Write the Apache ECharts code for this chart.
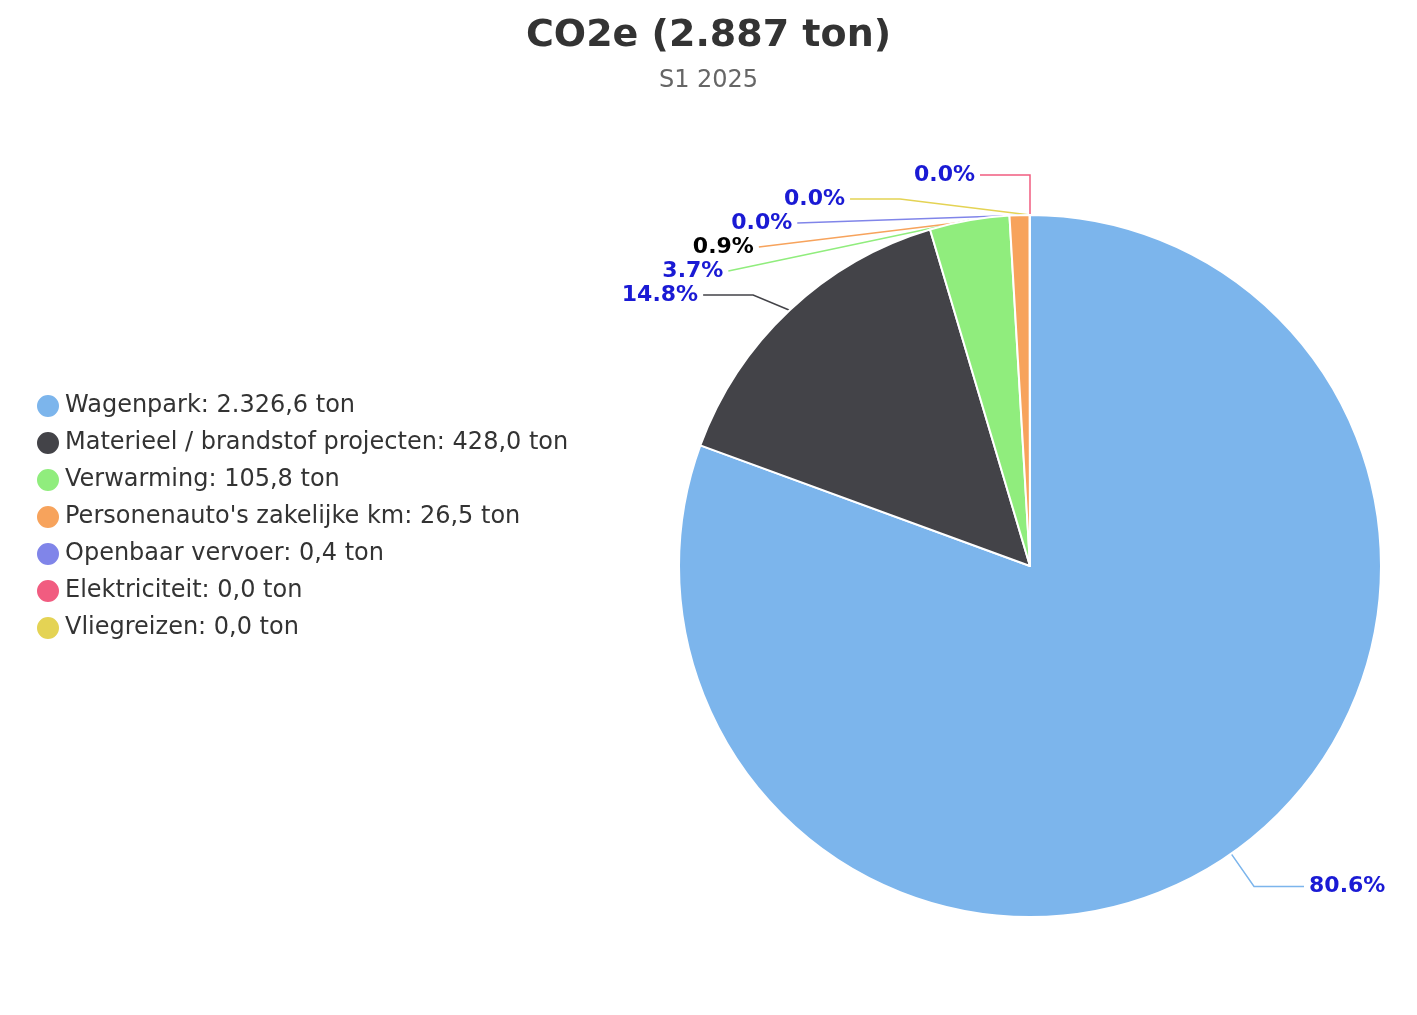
<!DOCTYPE html>
<html><head><meta charset="utf-8">
<script src="https://cdn.jsdelivr.net/npm/echarts@6/dist/echarts.min.js"></script>
<style>html,body{margin:0;padding:0;background:#fff}#c{width:1417px;height:1015px}</style>
</head><body><div id="c"></div>
<script>
const categories = ["Wagenpark","Materieel / brandstof projecten","Verwarming","Personenauto's zakelijke km","Openbaar vervoer","Elektriciteit","Vliegreizen"];
const values = [2326.6, 428.0, 105.8, 26.5, 0.4, 0.0, 0.0];
const valueLabels = ["2.326,6","428,0","105,8","26,5","0,4","0,0","0,0"];
const colors = ["#7cb5ec","#434348","#90ed7d","#f7a35c","#8085e9","#f15c80","#e4d354"];
const total = values.reduce((a,b)=>a+b,0);
const chart = echarts.init(document.getElementById('c'));
chart.setOption({
  animation:false,
  color: colors,
  title:{text:'CO2e (2.887 ton)',subtext:'S1 2025',left:'center',top:12,itemGap:14,
    textStyle:{fontFamily:'DejaVu Sans',fontSize:38,fontWeight:'bold',color:'#333'},
    subtextStyle:{fontFamily:'DejaVu Sans',fontSize:24,color:'#666'}},
  legend:{orient:'vertical',left:30,top:388,itemGap:11,icon:'circle',itemWidth:24,itemHeight:24,
    textStyle:{fontFamily:'DejaVu Sans',fontSize:24,color:'#333'},
    formatter:n=>n+': '+valueLabels[categories.indexOf(n)]+' ton'},
  series:[{type:'pie',center:[1030,566],radius:[0,351],startAngle:90,clockwise:true,
    stillShowZeroSum:true,minShowLabelAngle:0,avoidLabelOverlap:true,
    itemStyle:{borderColor:'#fff',borderWidth:2},
    label:{fontFamily:'DejaVu Sans',fontSize:22,fontWeight:'bold',color:'#1a1ad4',
      formatter:p=>(p.value/total*100).toFixed(1)+'%'},
    labelLine:{length:40,length2:50,lineStyle:{width:1.5}},
    data:categories.map((c,i)=>({name:c,value:values[i],
      label:i===3?{color:'#000'}:undefined}))
  }]
});
</script></body></html>
